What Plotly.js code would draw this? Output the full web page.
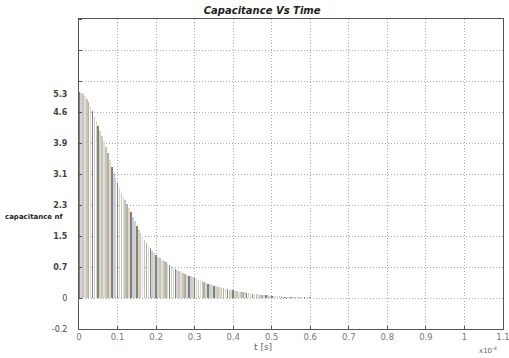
<!DOCTYPE html>
<html>
<head>
<meta charset="utf-8">
<script src="https://cdn.plot.ly/plotly-3.0.1.min.js"></script>
<style>html,body{margin:0;padding:0;background:#fff;}#chart{width:509px;height:358px;}</style>
</head>
<body>
<div id="chart"></div>
<script>
// time in units of 1e-4 s
var timeVals = [0,0.005,0.01,0.015,0.02,0.025,0.03,0.035,0.04,0.045,0.05,0.055,0.06,0.065,0.07,0.075,0.08,0.085,0.09,0.095,
0.1,0.105,0.11,0.115,0.12,0.125,0.13,0.135,0.14,0.145,0.15,0.155,0.16,0.165,0.17,0.175,0.18,0.185,0.19,0.195,
0.2,0.205,0.21,0.215,0.22,0.225,0.23,0.235,0.24,0.245,0.25,0.255,0.26,0.265,0.27,0.275,0.28,0.285,0.29,0.295,
0.3,0.305,0.31,0.315,0.32,0.325,0.33,0.335,0.34,0.345,0.35,0.355,0.36,0.365,0.37,0.375,0.38,0.385,0.39,0.395,
0.4,0.405,0.41,0.415,0.42,0.425,0.43,0.435,0.44,0.445,0.45,0.455,0.46,0.465,0.47,0.475,0.48,0.485,0.49,0.495,
0.5,0.505,0.51,0.515,0.52,0.525,0.53,0.535,0.54,0.545,0.55,0.555,0.56,0.565,0.57,0.575,0.58,0.585,0.59,0.595,0.6];
// capacitance (nF, axis units)
var capVals = [5.16,5.13,5.09,5.04,4.97,4.89,4.80,4.67,4.53,4.42,4.30,4.18,4.05,3.93,3.78,3.62,3.45,3.28,3.13,3.00,
2.88,2.74,2.62,2.52,2.44,2.35,2.25,2.14,2.03,1.92,1.81,1.71,1.62,1.54,1.45,1.38,1.31,1.24,1.18,1.12,
1.07,1.03,0.99,0.95,0.92,0.89,0.86,0.82,0.79,0.76,0.73,0.70,0.67,0.64,0.62,0.60,0.58,0.56,0.54,0.52,
0.50,0.48,0.46,0.44,0.42,0.40,0.38,0.36,0.34,0.33,0.31,0.30,0.28,0.27,0.26,0.25,0.23,0.22,0.21,0.20,
0.19,0.18,0.17,0.16,0.15,0.145,0.14,0.13,0.125,0.12,0.11,0.105,0.10,0.09,0.085,0.08,0.075,0.07,0.065,0.06,
0.055,0.05,0.047,0.044,0.041,0.038,0.035,0.033,0.031,0.029,0.027,0.025,0.023,0.021,0.019,0.018,0.017,0.016,0.015,0.014,0.013];
var yTickVals = [-0.775,0,0.775,1.55,2.325,3.1,3.875,4.65,5.1];
var yTickText = ["-0.2","0","<b>0.7</b>","<b>1.5</b>","<b>2.3</b>","<b>3.1</b>","<b>3.9</b>","<b>4.6</b>","<b>5.3</b>"];
var xTickVals = [0,0.1,0.2,0.3,0.4,0.5,0.6,0.7,0.8,0.9,1,1.1];
var xTickText = ["0","0.1","0.2","0.3","0.4","0.5","0.6","0.7","0.8","0.9","1","1.1"];

var palette = ['#7d8a70','#dfcdc8','#bcc6de','#e8e2ad','#c8c0d2','#aab59c','#ead6bb','#7a8098','#c6ced8','#d9d3c3'];
var barColors = timeVals.map(function(_, i){ return palette[i % palette.length]; });

var trace = {
  type: 'bar', x: timeVals, y: capVals, width: 0.0042,
  marker: {color: barColors, line: {width: 0}}, hoverinfo: 'x+y'
};

var layout = {
  width: 509, height: 358,
  margin: {l: 79, r: 6, t: 19, b: 29},
  paper_bgcolor: '#fff', plot_bgcolor: '#fff',
  showlegend: false, bargap: 0,
  title: {text: '<b><i>Capacitance Vs Time</i></b>', font: {family: 'DejaVu Sans', size: 10, color: '#222'}, x: 0.515, xanchor: 'center', y: 0.972, yanchor: 'middle'},
  xaxis: {
    range: [0, 1.1], tickvals: xTickVals, ticktext: xTickText, showgrid: true, gridcolor: '#aaa', griddash: '1px,2px',
    zeroline: false, showline: true, linecolor: '#555', mirror: true, ticks: 'inside', ticklen: 3, tickcolor: '#555',
    ticklabeloverflow: 'allow',
    tickfont: {family: 'DejaVu Sans', size: 8.5, color: '#777'}
  },
  yaxis: {
    range: [-0.775, 6.975], tickvals: yTickVals, ticktext: yTickText, showgrid: false,
    zeroline: false, showline: true, linecolor: '#555', mirror: true, ticks: '', ticklabelstandoff: 9,
    tickfont: {family: 'DejaVu Sans', size: 8, color: '#444'},
    minor: {tick0: 0, dtick: 0.775, showgrid: true, gridcolor: '#aaa', griddash: '1px,2px', ticks: 'inside', ticklen: 3, tickcolor: '#555'}
  },
  annotations: [
    {text: '<b>capacitance nf</b>', xref: 'paper', yref: 'paper', x: -0.105, y: 0.36, xanchor: 'center', yanchor: 'middle', showarrow: false, font: {family: 'DejaVu Sans', size: 7, color: '#222'}},
    {text: 't [s]', xref: 'paper', yref: 'paper', x: 0.435, y: -0.058, xanchor: 'center', yanchor: 'middle', showarrow: false, font: {family: 'DejaVu Sans', size: 9, color: '#666'}},
    {text: 'x10<sup>-4</sup>', xref: 'paper', yref: 'paper', x: 0.965, y: -0.068, xanchor: 'center', yanchor: 'middle', showarrow: false, font: {family: 'DejaVu Sans', size: 7, color: '#666'}}
  ]
};

Plotly.newPlot('chart', [trace], layout, {displayModeBar: false, staticPlot: true});
</script>
</body>
</html>
